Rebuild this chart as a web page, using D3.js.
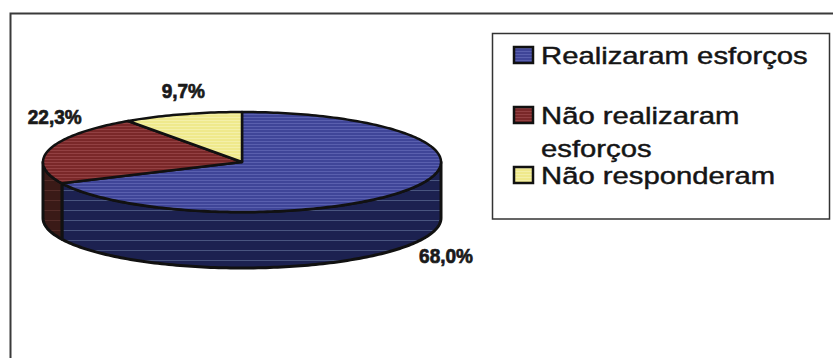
<!DOCTYPE html>
<html>
<head>
<meta charset="utf-8">
<script src="https://cdn.jsdelivr.net/npm/d3@7"></script>
<style>
  html, body { margin: 0; padding: 0; background: #fff; }
  svg { display: block; }
</style>
</head>
<body>
<svg id="chart" width="833" height="358"></svg>
<script>
// ---- data ----
const categories = ["Realizaram esforços", "Não realizaram esforços", "Não responderam"];
const values = [68.0, 22.3, 9.7];
const valueLabels = ["68,0%", "22,3%", "9,7%"];
const legendLines = [["Realizaram esforços"], ["Não realizaram", "esforços"], ["Não responderam"]];

// ---- styles / layout ----
const topColors = ["#3f4598", "#7a2829", "#efe98c"];
const topStripes = ["#6f75bf", "#a65457", "#f8f5c0"];
const sideColors = ["#1c2150", "#3a1a17", "#8a8440"];
const sideStripes = ["#6d80a6", "#6a3a36", "#b0aa60"];
const W = 833, H = 358;
const cx = 242, cy = 162, rx = 199, ry = 50, depth = 56;
const labelNudge = [[36, 18], [5, -25], [1, -16]];
const legendBaselines = [[64], [124, 157], [184]];

const svg = d3.select("#chart");
svg.append("rect").attr("width", W).attr("height", H).attr("fill", "#fff");

// patterns
const defs = svg.append("defs");
function stripePattern(id, base, stripe, step, thick) {
  const p = defs.append("pattern").attr("id", id).attr("patternUnits", "userSpaceOnUse")
    .attr("width", 4).attr("height", step);
  p.append("rect").attr("width", 4).attr("height", step).attr("fill", base);
  p.append("rect").attr("y", 0).attr("width", 4).attr("height", thick).attr("fill", stripe).attr("opacity", 0.55);
  return "url(#" + id + ")";
}
const topFill = categories.map((c, i) => stripePattern("top" + i, topColors[i], topStripes[i], 3, 1));
const sideFill = categories.map((c, i) => stripePattern("side" + i, sideColors[i], sideStripes[i], 10, 1));

// outer frame
svg.append("rect").attr("x", 10.5).attr("y", 13.5).attr("width", 900).attr("height", 400)
  .attr("fill", "none").attr("stroke", "#3a3a3a").attr("stroke-width", 2);

// pie geometry
const pie = d3.pie().sort(null).value(d => d).startAngle(0).endAngle(2 * Math.PI);
const arcs = pie(values);
const pt = (a, dy = 0) => [cx + rx * Math.sin(a), cy - ry * Math.cos(a) + dy];
const line = d3.line();
function samples(a0, a1, dy) {
  const n = Math.max(2, Math.ceil((a1 - a0) / 0.02));
  return d3.range(n + 1).map(k => pt(a0 + (a1 - a0) * k / n, dy));
}

const g = svg.append("g");
// sides (front half: angles between PI/2 and 3PI/2)
arcs.forEach((d, i) => {
  const s = Math.max(d.startAngle, Math.PI / 2), e = Math.min(d.endAngle, 3 * Math.PI / 2);
  if (s >= e) return;
  const pts = samples(s, e, 0).concat(samples(s, e, depth).reverse());
  g.append("path").attr("d", line(pts) + "Z")
    .attr("fill", sideFill[i]).attr("stroke", "#111").attr("stroke-width", 3)
    .attr("stroke-linejoin", "round");
});
// tops
arcs.forEach((d, i) => {
  const pts = [[cx, cy]].concat(samples(d.startAngle, d.endAngle, 0));
  g.append("path").attr("d", line(pts) + "Z")
    .attr("fill", topFill[i]).attr("stroke", "#111").attr("stroke-width", 2.5)
    .attr("stroke-linejoin", "round");
});

// value labels
arcs.forEach((d, i) => {
  const m = (d.startAngle + d.endAngle) / 2;
  const front = Math.cos(m) < 0 ? depth : 0;
  const p = pt(m, front);
  svg.append("text")
    .attr("transform", `translate(${p[0] + labelNudge[i][0]},${p[1] + labelNudge[i][1]}) scale(0.95,1.05)`)
    .attr("text-anchor", "middle")
    .attr("font-family", "Liberation Sans, Arial, sans-serif").attr("font-weight", "bold")
    .attr("font-size", 20).attr("fill", "#1a1a1a")
    .attr("stroke", "#1a1a1a").attr("stroke-width", 0.7)
    .text(valueLabels[i]);
});

// legend
svg.append("rect").attr("x", 492.5).attr("y", 33.5).attr("width", 337).attr("height", 185.5)
  .attr("fill", "#fff").attr("stroke", "#333").attr("stroke-width", 1.5);
categories.forEach((c, i) => {
  const b0 = legendBaselines[i][0];
  svg.append("rect").attr("x", 514).attr("y", b0 - 17).attr("width", 19).attr("height", 16)
    .attr("fill", topFill[i]).attr("stroke", "#111").attr("stroke-width", 2.5);
  legendLines[i].forEach((t, j) => {
    svg.append("text")
      .attr("transform", `translate(541,${legendBaselines[i][j]}) scale(1.22,1.02)`)
      .attr("font-family", "Liberation Sans, Arial, sans-serif").attr("font-size", 24)
      .attr("fill", "#151515").attr("stroke", "#151515").attr("stroke-width", 0.45)
      .text(t);
  });
});
</script>
</body>
</html>
